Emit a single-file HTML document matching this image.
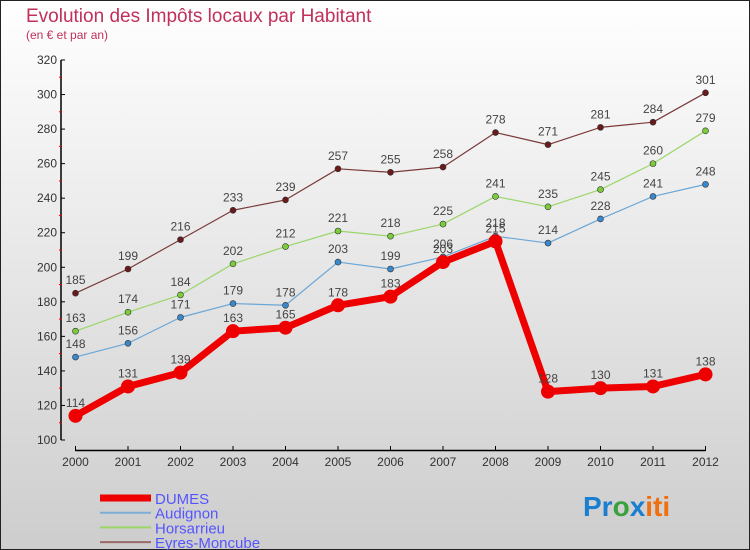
<!DOCTYPE html>
<html><head><meta charset="utf-8"><style>
body{margin:0;}
#c{width:750px;height:550px;position:relative;overflow:hidden;}
svg text{font-family:"Liberation Sans",sans-serif;}
</style></head><body>
<div id="c">
<svg id="s" width="750" height="550" xmlns="http://www.w3.org/2000/svg">
<defs><linearGradient id="bg" x1="0" y1="0" x2="0" y2="1"><stop offset="0" stop-color="#ffffff"/><stop offset="1" stop-color="#cdcdcd"/></linearGradient></defs>
<rect x="0.5" y="0.5" width="749" height="549" fill="url(#bg)" stroke="#222" stroke-width="1"/>
<text x="26" y="22" font-size="19" fill="#c0305a">Evolution des Impôts locaux par Habitant</text>
<text x="26" y="39" font-size="12" fill="#c0305a">(en € et par an)</text>
<g id="axes"></g>
<g id="series"></g>
<g id="legend"></g>
<text x="583" y="516" font-size="28" font-weight="bold"><tspan fill="#1a7fd0">Pr</tspan><tspan fill="#3aa040">o</tspan><tspan fill="#1a7fd0">x</tspan><tspan fill="#f07010">iti</tspan></text>
</svg>
</div>
<script>
const years = [2000,2001,2002,2003,2004,2005,2006,2007,2008,2009,2010,2011,2012];
const dumes = [114,131,139,163,165,178,183,203,215,128,130,131,138];
const audignon = [148,156,171,179,178,203,199,206,218,214,228,241,248];
const horsarrieu = [163,174,184,202,212,221,218,225,241,235,245,260,279];
const eyres = [185,199,216,233,239,257,255,258,278,271,281,284,301];
const yTicks = [100,120,140,160,180,200,220,240,260,280,300,320];
const NS="http://www.w3.org/2000/svg";
function xs(i){return 75.5+i*(705.5-75.5)/12;}
function ys(v){return 440-(v-100)*(380/220);}
function mk(tag,attrs,parent){const e=document.createElementNS(NS,tag);for(const k in attrs)e.setAttribute(k,attrs[k]);parent.appendChild(e);return e;}
const ax=document.getElementById('axes');
let yl=mk('line',{x1:61,y1:ys(320),x2:61,y2:440,stroke:'#000','stroke-width':1.5},ax);


let xl=mk('line',{x1:75.5,y1:450.5,x2:705.5,y2:450.5,stroke:'#000','stroke-width':1.5},ax);


yTicks.forEach((t,i)=>{
  mk('line',{x1:61,y1:ys(t),x2:65,y2:ys(t),stroke:'#000'},ax);
  if(i<yTicks.length-1) mk('line',{x1:59,y1:ys(t+10),x2:62,y2:ys(t+10),stroke:'#e00'},ax);
  const tx=mk('text',{x:57,y:ys(t)+4,'font-size':12,fill:'#333','text-anchor':'end'},ax);
  tx.textContent=t;
  
  
});
years.forEach((y,i)=>{
  mk('line',{x1:xs(i),y1:446,x2:xs(i),y2:451,stroke:'#000'},ax);
  const tx=mk('text',{x:xs(i),y:466,'font-size':12,fill:'#333','text-anchor':'middle'},ax);
  tx.textContent=y;
  
  
});
const sg=document.getElementById('series');
function draw(name,vals,color,dot,w,r,labelColor){
  const g=mk('g',{},sg);
  
  
  const pl=mk('polyline',{points:vals.map((v,i)=>xs(i)+','+ys(v)).join(' '),fill:'none',stroke:color,'stroke-width':w,'stroke-linejoin':'round'},g);
  
  
  vals.forEach((v,i)=>{
    const c=mk('circle',{cx:xs(i),cy:ys(v),r:r,fill:dot,stroke:'#333','stroke-width':r>5?0:0.6},g);
    
    
    const t=mk('text',{x:xs(i),y:ys(v)-9,'font-size':12,fill:'#444','text-anchor':'middle'},g);
    t.textContent=v;
    
    
  });
}
draw('eyres-moncube',eyres,'#7a3a3a','#6a1a1a',1.2,3);
draw('horsarrieu',horsarrieu,'#9ad66a','#7acc3a',1.2,3);
draw('audignon',audignon,'#6aa6d6','#3a88cc',1.2,3);
draw('dumes',dumes,'#ee0000','#ee0000',7,7);
const lg=document.getElementById('legend');
const items=[['DUMES','#ee0000',7],['Audignon','#7aaed6',2],['Horsarrieu','#9ad66a',2],['Eyres-Moncube','#9a6a6a',2]];
items.forEach((it,i)=>{
  const y=498+i*14.7;
  const g=mk('g',{},lg);
  
  
  mk('line',{x1:100,y1:y,x2:151,y2:y,stroke:it[1],'stroke-width':it[2]},g);
  const t=mk('text',{x:155,y:y+6,'font-size':15,fill:'#5555ff'},g);
  t.textContent=it[0];
});
</script>
</body></html>
